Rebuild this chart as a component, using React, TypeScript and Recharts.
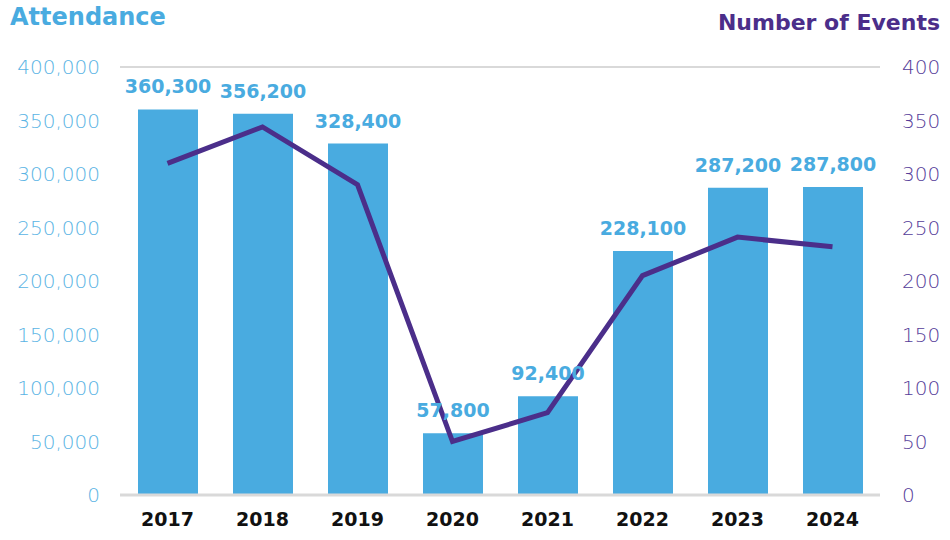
import React from 'react';
import { ComposedChart, Bar, Line, XAxis, YAxis, CartesianGrid, LabelList } from 'recharts';

const years = ['2017', '2018', '2019', '2020', '2021', '2022', '2023', '2024'];
const attendance = [360300, 356200, 328400, 57800, 92400, 228100, 287200, 287800];
const events = [310, 344, 290, 50, 77, 205, 241, 232];
const leftTicks = [0, 50000, 100000, 150000, 200000, 250000, 300000, 350000, 400000];
const rightTicks = [0, 50, 100, 150, 200, 250, 300, 350, 400];

const data = years.map((y, i) => ({ year: y, attendance: attendance[i], events: events[i] }));

const BLUE = '#49ABE0';
const PURPLE = '#4B2E8A';
const FONT = '"DejaVu Sans", sans-serif';

const fmt = (v: number) => v.toLocaleString('en-US');

export default function App() {
  return (
    <div style={{ position: 'absolute', left: 0, top: 0, width: 950, height: 540, background: '#fff', fontFamily: FONT }}>
      <div style={{ position: 'absolute', left: 10, top: 3, fontSize: 24, fontWeight: 700, color: BLUE, fontFamily: FONT }}>Attendance</div>
      <div style={{ position: 'absolute', right: 10, top: 10, fontSize: 22, fontWeight: 700, color: PURPLE, fontFamily: FONT }}>Number of Events</div>
      <ComposedChart width={950} height={540} data={data} margin={{ top: 67, right: 0, left: 0, bottom: 0 }}>
        <CartesianGrid vertical={false} stroke="#D9D9D9" strokeWidth={2} />
        <XAxis
          dataKey="year"
          height={45}
          axisLine={{ stroke: '#D9D9D9', strokeWidth: 3 }}
          tickLine={false}
          tickSize={0}
          tickMargin={18}
          tick={{ fill: '#111', fontSize: 19, fontWeight: 700, fontFamily: FONT }}
        />
        <YAxis
          yAxisId="left"
          orientation="left"
          width={120}
          domain={[0, 400000]}
          ticks={leftTicks}
          tickFormatter={fmt}
          axisLine={false}
          tickLine={false}
          tickSize={0}
          tickMargin={20}
          tick={{ fill: '#5AB4E4', fontSize: 20, fontWeight: 200, fontFamily: FONT }}
        />
        <YAxis
          yAxisId="right"
          orientation="right"
          width={70}
          domain={[0, 400]}
          ticks={rightTicks}
          axisLine={false}
          tickLine={false}
          tickSize={0}
          tickMargin={22}
          tick={{ fill: '#553C99', fontSize: 20, fontWeight: 200, fontFamily: FONT }}
        />
        <Bar yAxisId="left" dataKey="attendance" fill={BLUE} barSize={60} isAnimationActive={false}>
          <LabelList dataKey="attendance" position="top" offset={16} formatter={(v: any) => fmt(Number(v))} fill={BLUE} fontSize={19} fontFamily={FONT} fontWeight={700} />
        </Bar>
        <Line yAxisId="right" dataKey="events" stroke={PURPLE} strokeWidth={5} dot={false} activeDot={false} strokeLinejoin="miter" isAnimationActive={false} />
      </ComposedChart>
    </div>
  );
}
